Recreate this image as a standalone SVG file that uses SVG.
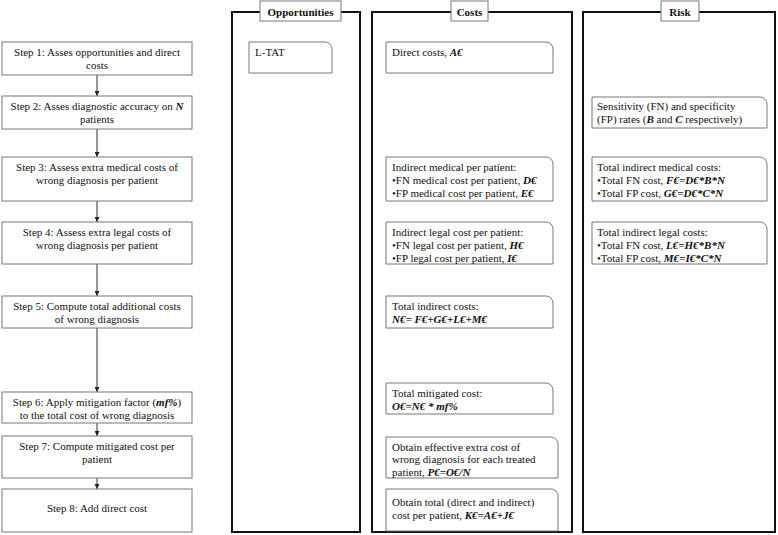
<svg xmlns="http://www.w3.org/2000/svg" width="778" height="535" viewBox="0 0 778 535">
<style>
text{font-family:"Liberation Serif","Times New Roman",serif;font-size:11px;fill:#111}
.c{text-anchor:middle}
.h{font-weight:bold;text-anchor:middle}
.b{font-weight:bold;font-style:italic}
.step{fill:#fff;stroke:#777;stroke-width:1}
.box{fill:#fff;stroke:#777;stroke-width:1}
.panel{fill:#fff;stroke:#111;stroke-width:2}
.lbl{fill:#fff;stroke:#777;stroke-width:1}
.conn line{stroke:#333;stroke-width:1;marker-end:url(#arr)}
</style>
<defs>
<marker id="arr" viewBox="0 0 6 6" refX="6" refY="3" markerWidth="5" markerHeight="5" orient="auto" markerUnits="userSpaceOnUse">
<path d="M0,0 L6,3 L0,6 Z" fill="#222"/>
</marker>
</defs>
<rect width="778" height="535" fill="#fff"/>

<g id="panel-opportunities">
<rect class="panel" x="232" y="12" width="128" height="520"/>
<rect class="lbl" x="260" y="1" width="81" height="20"/>
<text class="h" x="300.5" y="15.5">Opportunities</text>
</g>
<g id="panel-costs">
<rect class="panel" x="372" y="12" width="200" height="520"/>
<rect class="lbl" x="451" y="1" width="37" height="20"/>
<text class="h" x="469.5" y="15.5">Costs</text>
</g>
<g id="panel-risk">
<rect class="panel" x="583" y="12" width="192" height="520"/>
<rect class="lbl" x="661" y="1" width="38" height="20"/>
<text class="h" x="680" y="15.5">Risk</text>
</g>

<g class="conn" id="connectors">
<line x1="97" y1="75" x2="97" y2="96"/>
<line x1="97" y1="129" x2="97" y2="157"/>
<line x1="97" y1="201" x2="97" y2="222"/>
<line x1="97" y1="264" x2="97" y2="296"/>
<line x1="97" y1="328" x2="97" y2="392"/>
<line x1="97" y1="423" x2="97" y2="436"/>
<line x1="97" y1="478" x2="97" y2="489"/>
</g>

<g id="step1"><rect class="step" x="2" y="42" width="190" height="33"/>
<text class="c" x="97" y="56">Step 1: Asses opportunities and direct</text>
<text class="c" x="97" y="69">costs</text></g>
<g id="step2"><rect class="step" x="2" y="96" width="190" height="33"/>
<text class="c" x="97" y="110">Step 2: Asses diagnostic accuracy on <tspan class="b">N</tspan></text>
<text class="c" x="97" y="123">patients</text></g>
<g id="step3"><rect class="step" x="2" y="157" width="190" height="44"/>
<text class="c" x="97" y="171">Step 3: Assess extra medical costs of</text>
<text class="c" x="97" y="184">wrong diagnosis per patient</text></g>
<g id="step4"><rect class="step" x="2" y="222" width="190" height="42"/>
<text class="c" x="97" y="236">Step 4: Assess extra legal costs of</text>
<text class="c" x="97" y="249">wrong diagnosis per patient</text></g>
<g id="step5"><rect class="step" x="2" y="296" width="190" height="32"/>
<text class="c" x="97" y="310">Step 5: Compute total additional costs</text>
<text class="c" x="97" y="323">of wrong diagnosis</text></g>
<g id="step6"><rect class="step" x="2" y="392" width="190" height="31"/>
<text class="c" x="97" y="406">Step 6: Apply mitigation factor (<tspan class="b">mf%</tspan>)</text>
<text class="c" x="97" y="419">to the total cost of wrong diagnosis</text></g>
<g id="step7"><rect class="step" x="2" y="436" width="190" height="42"/>
<text class="c" x="97" y="450">Step 7: Compute mitigated cost per</text>
<text class="c" x="97" y="463">patient</text></g>
<g id="step8"><rect class="step" x="2" y="489" width="190" height="43"/>
<text class="c" x="97" y="512">Step 8: Add direct cost</text></g>

<g id="ltat"><path class="box" d="M249,42 H325 A7,7 0 0 1 332,49 V73 H249 Z"/>
<text x="255" y="56">L-TAT</text></g>

<g id="direct-costs"><path class="box" d="M386,42 H546 A7,7 0 0 1 553,49 V73 H386 Z"/>
<text x="392" y="56">Direct costs, <tspan class="b">A€</tspan></text></g>
<g id="indirect-medical"><path class="box" d="M386,157 H546 A7,7 0 0 1 553,164 V201 H386 Z"/>
<text x="392" y="171">Indirect medical per patient:</text>
<text x="392" y="184">•FN medical cost per patient, <tspan class="b">D€</tspan></text>
<text x="392" y="197">•FP medical cost per patient, <tspan class="b">E€</tspan></text></g>
<g id="indirect-legal"><path class="box" d="M386,222 H546 A7,7 0 0 1 553,229 V264 H386 Z"/>
<text x="392" y="236">Indirect legal cost per patient:</text>
<text x="392" y="249">•FN legal cost per patient, <tspan class="b">H€</tspan></text>
<text x="392" y="262">•FP legal cost per patient, <tspan class="b">I€</tspan></text></g>
<g id="total-indirect"><path class="box" d="M386,296 H546 A7,7 0 0 1 553,303 V328 H386 Z"/>
<text x="392" y="310">Total indirect costs:</text>
<text x="392" y="323" class="b">N€= F€+G€+L€+M€</text></g>
<g id="total-mitigated"><path class="box" d="M386,383 H546 A7,7 0 0 1 553,390 V414 H386 Z"/>
<text x="392" y="397">Total mitigated cost:</text>
<text x="392" y="410" class="b">O€=N€ * mf%</text></g>
<g id="effective-extra"><path class="box" d="M386,437 H551 A7,7 0 0 1 558,444 V478 H386 Z"/>
<text x="392" y="450.5">Obtain effective extra cost of</text>
<text x="392" y="463">wrong diagnosis for each treated</text>
<text x="392" y="475.5">patient, <tspan class="b">P€=O€/N</tspan></text></g>
<g id="total-per-patient"><path class="box" d="M386,489 H551 A7,7 0 0 1 558,496 V531 H386 Z"/>
<text x="392" y="506">Obtain total (direct and indirect)</text>
<text x="392" y="518.5">cost per patient, <tspan class="b">K€=A€+J€</tspan></text></g>

<g id="sens-spec"><path class="box" d="M592,97 H760 A7,7 0 0 1 767,104 V128 H592 Z"/>
<text x="597" y="110">Sensitivity (FN) and specificity</text>
<text x="597" y="123">(FP) rates (<tspan class="b">B</tspan> and <tspan class="b">C</tspan> respectively)</text></g>
<g id="total-medical"><path class="box" d="M592,157 H760 A7,7 0 0 1 767,164 V201 H592 Z"/>
<text x="597" y="171">Total indirect medical costs:</text>
<text x="597" y="184">•Total FN cost, <tspan class="b">F€=D€*B*N</tspan></text>
<text x="597" y="197">•Total FP cost, <tspan class="b">G€=D€*C*N</tspan></text></g>
<g id="total-legal"><path class="box" d="M592,222 H760 A7,7 0 0 1 767,229 V264 H592 Z"/>
<text x="597" y="236">Total indirect legal costs:</text>
<text x="597" y="249">•Total FN cost, <tspan class="b">L€=H€*B*N</tspan></text>
<text x="597" y="262">•Total FP cost, <tspan class="b">M€=I€*C*N</tspan></text></g>
</svg>
